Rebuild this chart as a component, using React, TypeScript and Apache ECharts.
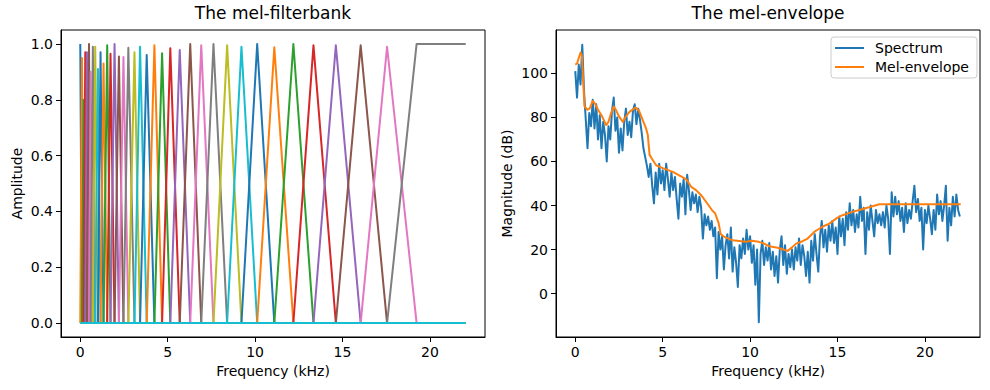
import React, { useEffect, useRef } from "react";
import * as echarts from "echarts";

// ---------- Data ----------
const NYQUIST_KHZ = 22.05;

// Mel filter centre frequencies (kHz) and their peak heights
const FILTER_CENTERS_KHZ = [
  0, 0.097, 0.19, 0.285, 0.38, 0.5, 0.59, 0.72, 0.855, 1.01, 1.16, 1.33, 1.54,
  1.73, 1.96, 2.21, 2.47, 2.75, 3.1, 3.42, 3.8, 4.24, 4.68, 5.15, 5.69, 6.29,
  6.92, 7.62, 8.4, 9.22, 10.12, 11.1, 12.19, 13.34, 14.62, 16.04, 17.55, 19.24,
];
const FILTER_PEAKS = [
  1.0, 0.95, 0.8, 0.97, 0.97, 1.0, 0.9, 0.99, 0.99, 0.91, 0.97, 0.93, 0.995,
  0.965, 1.0, 0.955, 0.953, 0.986, 0.97, 0.99, 0.96, 0.995, 0.967, 0.985, 0.978,
  1.0, 0.995, 1.0, 0.995, 0.99, 1.0, 0.988, 1.0, 0.995, 0.995, 0.995, 0.99, 1.0,
];
const EMPTY_FILTER_COUNT = 2;

// Spectrum magnitude (dB), one value per 0.1 kHz bin starting at 0 kHz
const SPECTRUM_BIN_KHZ = 0.1;
const SPECTRUM_DB = [
  101, 89, 104, 95, 113, 92, 79, 66, 82, 76,
  88, 75, 86, 70, 81, 66, 78, 72, 60, 76,
  70, 83, 89, 74, 80, 64, 75, 65, 78, 84,
  72, 78, 71, 83, 86, 77, 84, 79, 73, 66,
  62, 58, 53, 59, 49, 41, 55, 45, 59, 50,
  56, 47, 59, 52, 44, 55, 47, 53, 43, 34,
  50, 44, 52, 36, 54, 47, 38, 46, 41, 45,
  37, 44, 39, 25, 36, 31, 35, 29, 33, 26,
  30, 7, 28, 20, 26, 11, 22, 27, 16, 30,
  10, 21, 14, 3, 22, 16, 25, 18, 29, 20,
  26, 14, 22, 4, 20, -13, 18, 24, 13, 21,
  15, 23, 11, 19, 8, 17, 5, 20, 26, 13,
  22, 9, 18, 12, 20, 11, 21, 15, 25, 13,
  22, 17, 8, 19, 5, 24, 15, 27, 18, 10,
  26, 33, 21, 29, 19, 31, 24, 33, 23, 30,
  18, 35, 26, 34, 22, 37, 29, 41, 31, 38,
  28, 36, 30, 44, 33, 39, 18, 37, 29, 40,
  33, 26, 38, 32, 36, 31, 37, 30, 40, 34,
  18, 46, 35, 44, 36, 42, 33, 39, 28, 41,
  32, 38, 34, 42, 49, 37, 43, 33, 39, 20,
  38, 32, 40, 34, 27, 38, 29, 45, 36, 42,
  33, 40, 49, 24, 39, 31, 44, 35, 45, 38,
  35,
];

// Mel-envelope
const ENVELOPE_KHZ = [
  0.0, 0.1, 0.2, 0.3, 0.38, 0.45, 0.53, 0.7, 0.82, 1.0, 1.15, 1.3, 1.5, 1.77,
  1.9, 2.05, 2.2, 2.35, 2.5, 2.72, 2.9, 3.1, 3.45, 3.65, 3.86, 4.05, 4.15,
  4.25, 4.4, 4.63, 5.0, 5.58, 6.0, 6.34, 6.63, 6.91, 7.2, 7.49, 7.86, 8.0, 8.2,
  8.32, 8.5, 9.0, 9.77, 10.1, 10.5, 10.8, 11.1, 11.58, 12.15, 12.4, 12.63,
  13.0, 13.29, 13.67, 13.86, 14.2, 14.53, 15.0, 15.29, 15.8, 16.25, 16.8, 17.0,
  17.4, 17.58, 22.05,
];
const ENVELOPE_DB = [
  104, 104.5, 107, 109.5, 108, 97, 85, 83.5, 84, 87.5, 86, 83.5, 81, 76.5,
  78, 82, 85, 83, 80.5, 78, 80.5, 82.5, 84.5, 83, 78.8, 75, 72,
  63, 61, 58.3, 57, 55.3, 53.5, 52, 48.5, 47, 44.7, 41.6, 37.5, 36.5, 32,
  27, 25.9, 24.2, 23.6, 24, 23.5, 22.7, 21.5, 20.8, 19.4, 21, 22.7,
  23.8, 25, 28, 29, 30.6, 31.8, 34.5, 35.6, 37, 38, 39.2, 39.7,
  40.6, 40.6, 40.6,
];

const X_TICKS = [0, 5, 10, 15, 20];
const AMP_TICKS = [0, 0.2, 0.4, 0.6, 0.8, 1.0];
const DB_TICKS = [0, 20, 40, 60, 80, 100];

const TAB10 = [
  "#1f77b4", "#ff7f0e", "#2ca02c", "#d62728", "#9467bd",
  "#8c564b", "#e377c2", "#7f7f7f", "#bcbd22", "#17becf",
];

const FONT = "DejaVu Sans";

function filterSeries() {
  const n = FILTER_CENTERS_KHZ.length;
  const out: any[] = [];
  for (let k = 0; k < n; k++) {
    const c = FILTER_CENTERS_KHZ[k];
    const p = FILTER_PEAKS[k];
    let pts: number[][];
    if (k === 0) {
      pts = [[c, p], [FILTER_CENTERS_KHZ[1], 0], [NYQUIST_KHZ, 0]];
    } else if (k === n - 1) {
      pts = [[0, 0], [FILTER_CENTERS_KHZ[k - 1], 0], [c, p], [NYQUIST_KHZ, p]];
    } else {
      pts = [[0, 0], [FILTER_CENTERS_KHZ[k - 1], 0], [c, p], [FILTER_CENTERS_KHZ[k + 1], 0], [NYQUIST_KHZ, 0]];
    }
    out.push(pts);
  }
  for (let e = 0; e < EMPTY_FILTER_COUNT; e++) {
    out.push([[0, 0], [NYQUIST_KHZ, 0]]);
  }
  return out.map((pts, i) => ({
    type: "line",
    xAxisIndex: 0,
    yAxisIndex: 0,
    data: pts,
    showSymbol: false,
    symbol: "none",
    lineStyle: { color: TAB10[i % 10], width: 2, join: "round" },
    itemStyle: { color: TAB10[i % 10] },
    silent: true,
  }));
}

function axisCommon() {
  return {
    axisLine: { show: true, onZero: false, lineStyle: { color: "#000", width: 1 } },
    axisTick: { show: true, inside: false, length: 5, lineStyle: { color: "#000", width: 1 } },
    splitLine: { show: false },
    nameTextStyle: { color: "#000", fontSize: 14, fontFamily: FONT },
  };
}

export default function App() {
  const ref = useRef<HTMLDivElement>(null);
  useEffect(() => {
    if (!ref.current) return;
    const chart = echarts.init(ref.current, null, { renderer: "svg" });
    const labelStyle = { color: "#000", fontSize: 14, fontFamily: FONT };
    const option: any = {
      animation: false,
      backgroundColor: "#fff",
      textStyle: { fontFamily: FONT },
      grid: [
        { left: 61, top: 30, width: 424, height: 307, show: true, borderColor: "#000", borderWidth: 1, backgroundColor: "transparent" },
        { left: 556, top: 30, width: 424, height: 307, show: true, borderColor: "#000", borderWidth: 1, backgroundColor: "transparent" },
      ],
      xAxis: [0, 1].map((g) => ({
        ...axisCommon(),
        type: "value",
        gridIndex: g,
        min: -1.1025,
        max: 23.1525,
        name: "Frequency (kHz)",
        nameLocation: "middle",
        nameGap: 27,
        axisTick: { ...axisCommon().axisTick, customValues: X_TICKS },
        axisLabel: { ...labelStyle, margin: 8, customValues: X_TICKS, formatter: (v: number) => String(v) },
      })),
      yAxis: [
        {
          ...axisCommon(),
          type: "value",
          gridIndex: 0,
          min: -0.05,
          max: 1.05,
          name: "Amplitude",
          nameLocation: "middle",
          nameGap: 37,
          axisTick: { ...axisCommon().axisTick, customValues: AMP_TICKS },
          axisLabel: { ...labelStyle, margin: 8, customValues: AMP_TICKS, formatter: (v: number) => v.toFixed(1) },
        },
        {
          ...axisCommon(),
          type: "value",
          gridIndex: 1,
          min: -19.7,
          max: 119.7,
          name: "Magnitude (dB)",
          nameLocation: "middle",
          nameGap: 42,
          axisTick: { ...axisCommon().axisTick, customValues: DB_TICKS },
          axisLabel: { ...labelStyle, margin: 8, customValues: DB_TICKS, formatter: (v: number) => String(v) },
        },
      ],
      legend: {
        show: true,
        data: ["Spectrum", "Mel-envelope"],
        left: 831,
        top: 37,
        orient: "vertical",
        icon: "rect",
        itemWidth: 29,
        itemHeight: 2,
        itemGap: 5,
        padding: [4, 8, 4, 4],
        backgroundColor: "rgba(255,255,255,0.8)",
        borderColor: "#cccccc",
        borderWidth: 1,
        borderRadius: 3,
        textStyle: { color: "#000", fontSize: 14, fontFamily: FONT, padding: [0, 0, 0, 6] },
        selectedMode: false,
      },
      graphic: [
        {
          type: "text",
          x: 273,
          y: 13,
          style: { text: "The mel-filterbank", fill: "#000", font: `17px '${FONT}'`, textAlign: "center", textVerticalAlign: "middle" },
        },
        {
          type: "text",
          x: 768,
          y: 13,
          style: { text: "The mel-envelope", fill: "#000", font: `17px '${FONT}'`, textAlign: "center", textVerticalAlign: "middle" },
        },
      ],
      series: [
        ...filterSeries(),
        {
          name: "Spectrum",
          type: "line",
          xAxisIndex: 1,
          yAxisIndex: 1,
          data: SPECTRUM_DB.map((v, i) => [i * SPECTRUM_BIN_KHZ, v]),
          showSymbol: false,
          symbol: "none",
          lineStyle: { color: TAB10[0], width: 2, join: "round" },
          itemStyle: { color: TAB10[0] },
        },
        {
          name: "Mel-envelope",
          type: "line",
          xAxisIndex: 1,
          yAxisIndex: 1,
          data: ENVELOPE_KHZ.map((f, i) => [f, ENVELOPE_DB[i]]),
          showSymbol: false,
          symbol: "none",
          lineStyle: { color: TAB10[1], width: 2, join: "round" },
          itemStyle: { color: TAB10[1] },
        },
      ],
    };
    chart.setOption(option);
    return () => chart.dispose();
  }, []);
  return (
    <div
      ref={ref}
      style={{ position: "absolute", left: 0, top: 0, width: 990, height: 390 }}
    />
  );
}
